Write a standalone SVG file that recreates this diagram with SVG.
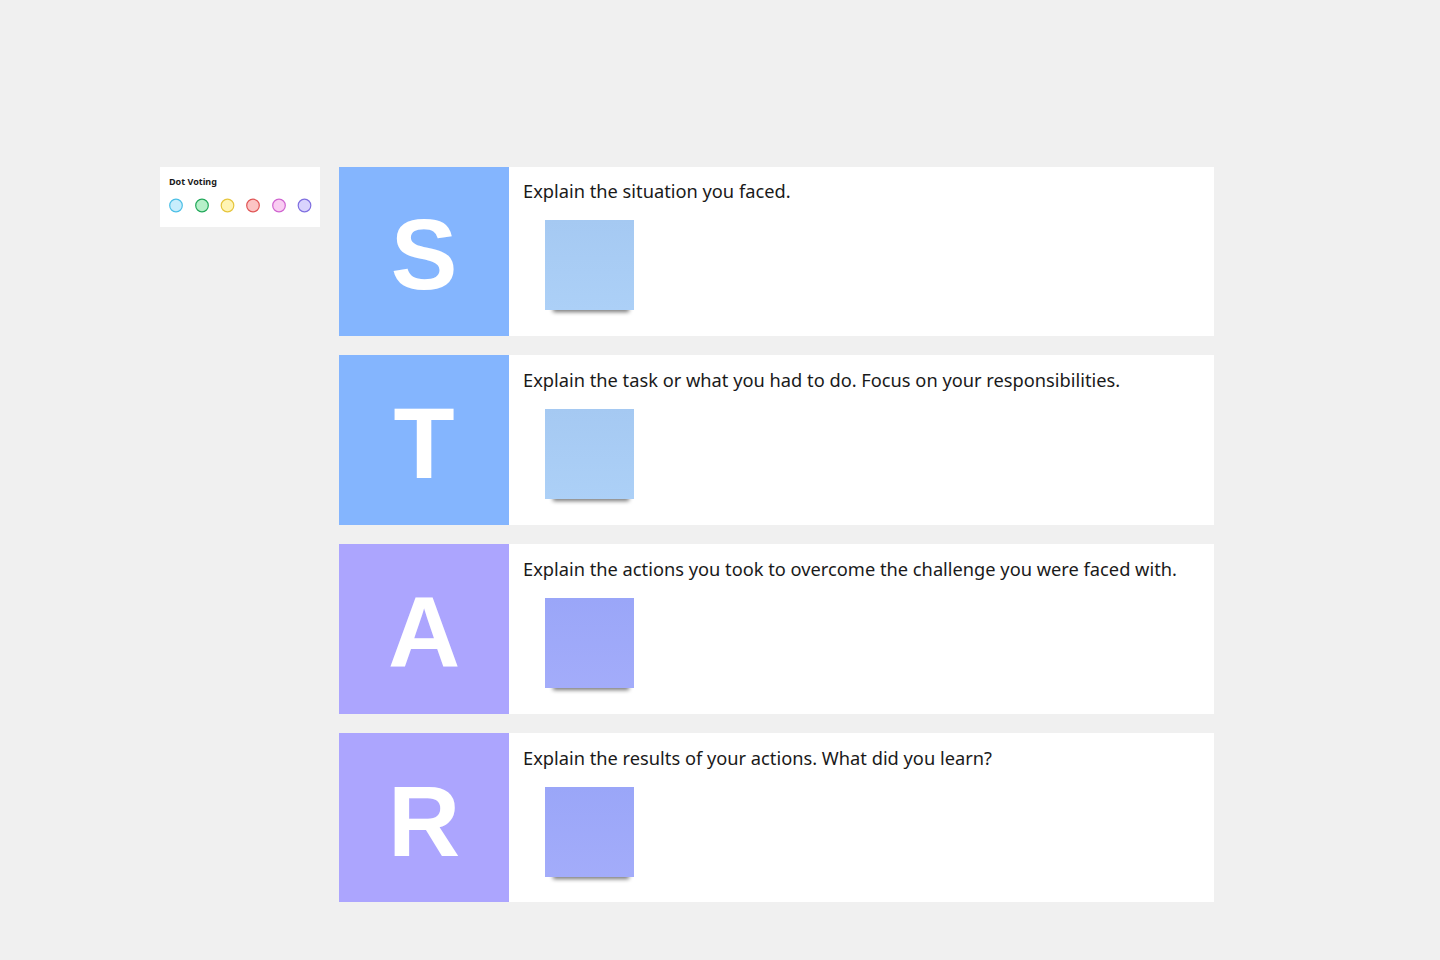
<svg xmlns="http://www.w3.org/2000/svg" width="1440" height="960" viewBox="0 0 1440 960">
<defs>
<style>
.bg{fill:#f0f0f0}
.card{fill:#ffffff}
.lb{fill:#84b5fe}
.lp{fill:#aca5fe}
.letter{font-family:"Liberation Sans",Arial,sans-serif;font-weight:bold;font-size:100px;fill:#ffffff;text-anchor:middle}
.desc{font-family:"Noto Sans","Liberation Sans",sans-serif;font-size:18.25px;fill:#1a1a1a}
.title{font-family:"Noto Sans","Liberation Sans",sans-serif;font-size:9px;font-weight:bold;fill:#1a1a1a}
.shadow{fill:#000;opacity:0.55}
</style>
<linearGradient id="gb" x1="0" y1="0" x2="0" y2="1">
<stop offset="0" stop-color="#a5c9f2"/><stop offset="1" stop-color="#acd0f7"/>
</linearGradient>
<linearGradient id="gp" x1="0" y1="0" x2="0" y2="1">
<stop offset="0" stop-color="#9aa6f8"/><stop offset="1" stop-color="#a3acfa"/>
</linearGradient>
<filter id="sh" x="-20%" y="-100%" width="140%" height="300%">
<feGaussianBlur stdDeviation="2.2"/>
</filter>
</defs>
<rect class="bg" x="0" y="0" width="1440" height="960"/>
<g id="dot-voting">
<rect class="card" x="160" y="167" width="160" height="60"/>
<text class="title" x="169" y="185">Dot Voting</text>
<circle cx="176" cy="205.5" r="6.3" fill="#c8edfc" stroke="#4cbfe6" stroke-width="1.2"/>
<circle cx="202" cy="205.5" r="6.3" fill="#b6f0c9" stroke="#22a85a" stroke-width="1.2"/>
<circle cx="227.5" cy="205.5" r="6.3" fill="#fff4b4" stroke="#e6c53c" stroke-width="1.2"/>
<circle cx="253" cy="205.5" r="6.3" fill="#fcc4c4" stroke="#e05555" stroke-width="1.2"/>
<circle cx="279" cy="205.5" r="6.3" fill="#f9cdf2" stroke="#d064d0" stroke-width="1.2"/>
<circle cx="304.5" cy="205.5" r="6.3" fill="#d9d3fd" stroke="#7f6fe0" stroke-width="1.2"/>
</g>
<g id="row-s">
<rect class="lb" x="339" y="167" width="170" height="169"/>
<rect class="card" x="509" y="167" width="705" height="169"/>
<text class="letter" x="424" y="289">S</text>
<text class="desc" x="523" y="198">Explain the situation you faced.</text>
<rect class="shadow" x="553" y="306" width="76" height="6" filter="url(#sh)"/>
<rect x="545" y="220" width="89" height="90" fill="url(#gb)"/>
</g>
<g id="row-t">
<rect class="lb" x="339" y="355" width="170" height="170"/>
<rect class="card" x="509" y="355" width="705" height="170"/>
<text class="letter" x="424" y="478">T</text>
<text class="desc" x="523" y="387">Explain the task or what you had to do. Focus on your responsibilities.</text>
<rect class="shadow" x="553" y="495" width="76" height="6" filter="url(#sh)"/>
<rect x="545" y="409" width="89" height="90" fill="url(#gb)"/>
</g>
<g id="row-a">
<rect class="lp" x="339" y="544" width="170" height="170"/>
<rect class="card" x="509" y="544" width="705" height="170"/>
<text class="letter" x="424" y="667">A</text>
<text class="desc" x="523" y="576">Explain the actions you took to overcome the challenge you were faced with.</text>
<rect class="shadow" x="553" y="684" width="76" height="6" filter="url(#sh)"/>
<rect x="545" y="598" width="89" height="90" fill="url(#gp)"/>
</g>
<g id="row-r">
<rect class="lp" x="339" y="733" width="170" height="169"/>
<rect class="card" x="509" y="733" width="705" height="169"/>
<text class="letter" x="424" y="856">R</text>
<text class="desc" x="523" y="765">Explain the results of your actions. What did you learn?</text>
<rect class="shadow" x="553" y="873" width="76" height="6" filter="url(#sh)"/>
<rect x="545" y="787" width="89" height="90" fill="url(#gp)"/>
</g>
<g id="connectors"></g>
</svg>
